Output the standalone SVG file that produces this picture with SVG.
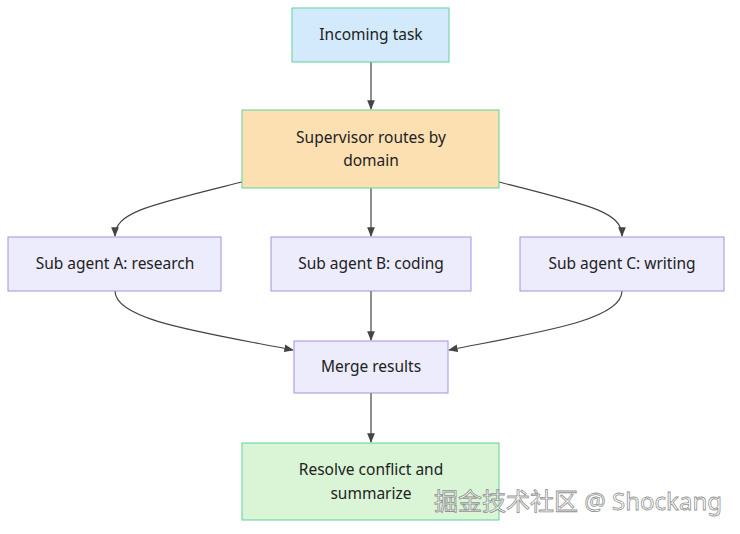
<svg xmlns="http://www.w3.org/2000/svg" width="740" height="534" viewBox="0 0 740 534">
<style>
.t{font-family:"Noto Sans","DejaVu Sans",sans-serif;font-size:15.5px;fill:#222;text-anchor:middle}
.p{fill:#ececfd;stroke:#a88ee0;stroke-width:1}
.e{fill:none;stroke:#444;stroke-width:1.2}
</style>
<defs><marker id="a" viewBox="0 0 10 10" refX="9" refY="5" markerWidth="8" markerHeight="8" orient="auto"><path d="M0,1 L10,5 L0,9 z" fill="#444"/></marker></defs>
<rect width="740" height="534" fill="#fff"/>
<g id="connectors">
<path class="e" d="M371,62 V109" marker-end="url(#a)"/>
<path class="e" d="M371,188 V236" marker-end="url(#a)"/>
<path class="e" d="M242,182 C150,205 115,212 115,236" marker-end="url(#a)"/>
<path class="e" d="M499,182 C590,205 622,212 622,236" marker-end="url(#a)"/>
<path class="e" d="M371,291 V340" marker-end="url(#a)"/>
<path class="e" d="M115,291 C115,320 200,332 293,350" marker-end="url(#a)"/>
<path class="e" d="M622,291 C622,320 540,332 449,350" marker-end="url(#a)"/>
<path class="e" d="M371,393 V442" marker-end="url(#a)"/>
</g>
<g id="incoming"><rect x="292" y="8" width="157" height="54" fill="#d3eafc" stroke="#5fd39b"/><text class="t" x="371" y="40">Incoming task</text></g>
<g id="supervisor"><rect x="242" y="110" width="257" height="78" fill="#fde0b2" stroke="#5fd39b"/><text class="t" x="371" y="143">Supervisor routes by</text><text class="t" x="371" y="166">domain</text></g>
<g id="subA"><rect class="p" x="8" y="237" width="213" height="54"/><text class="t" x="115" y="269">Sub agent A: research</text></g>
<g id="subB"><rect class="p" x="271" y="237" width="200" height="54"/><text class="t" x="371" y="269">Sub agent B: coding</text></g>
<g id="subC"><rect class="p" x="520" y="237" width="204" height="54"/><text class="t" x="622" y="269">Sub agent C: writing</text></g>
<g id="merge"><rect class="p" x="294" y="341" width="154" height="52"/><text class="t" x="371" y="372">Merge results</text></g>
<g id="resolve"><rect x="242" y="443" width="257" height="77" fill="#d9f5d6" stroke="#5fd39b"/><text class="t" x="371" y="475">Resolve conflict and</text><text class="t" x="371" y="499">summarize</text></g>
<text x="722" y="510" text-anchor="end" font-family="Noto Sans, Noto Sans CJK SC, sans-serif" font-size="24" fill="#fff" stroke="#888" stroke-width="0.8" opacity="0.9">掘金技术社区 @ Shockang</text>
</svg>
